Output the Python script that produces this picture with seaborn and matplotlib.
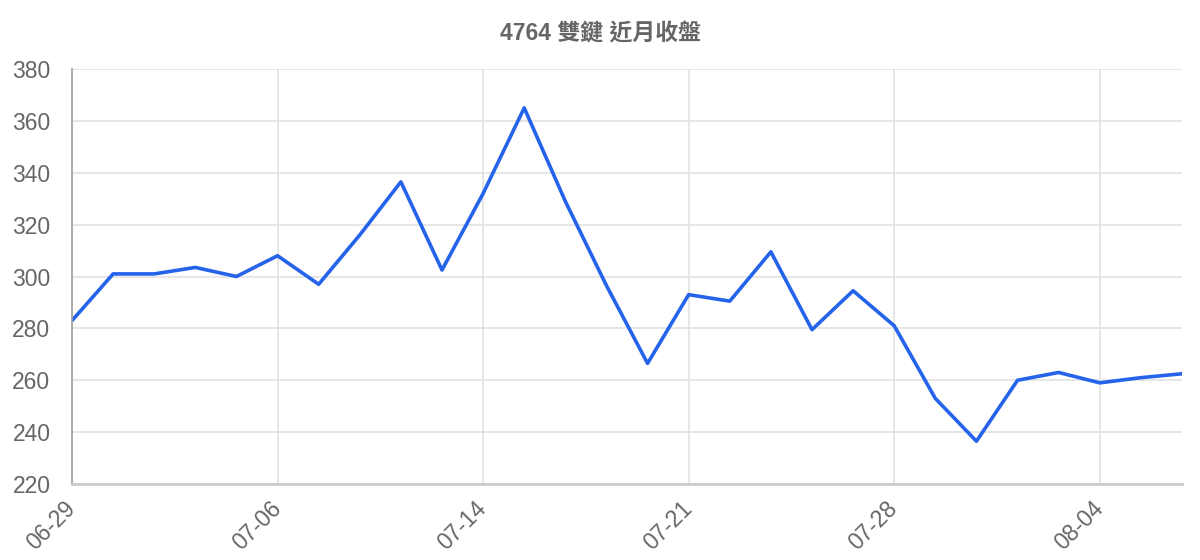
import pandas as pd
import seaborn as sns
import matplotlib
matplotlib.use('Agg')
from matplotlib import pyplot as plt

# 近月收盤資料
dates = ['06-29', '06-30', '07-03', '07-04', '07-05', '07-06', '07-10', '07-11',
         '07-12', '07-13', '07-14', '07-17', '07-18', '07-19', '07-20', '07-21',
         '07-24', '07-25', '07-26', '07-27', '07-28', '07-31', '08-01', '08-02',
         '08-03', '08-04', '08-07', '08-08']
close = [283, 301, 301, 303.5, 300, 308, 297, 316, 336.5, 302.5, 332, 365,
         329, 296.5, 266.5, 293, 290.5, 309.5, 279.5, 294.5, 281, 253, 236.5,
         260, 263, 259, 261, 262.5]
title = '4764 雙鍵 近月收盤'

df = pd.DataFrame({'date': dates, 'close': close})
df['pos'] = range(len(df))

sns.set_theme(style='white')
plt.rcParams['font.family'] = ['Liberation Sans', 'Noto Sans CJK TC', 'DejaVu Sans']

fig = plt.figure(figsize=(12, 5.6), dpi=100)
ax = fig.add_axes([0.06, 0.1357, 0.925, 0.7411])

sns.lineplot(x='pos', y='close', data=df, ax=ax, color='#2563eb', linewidth=2.6)

ax.set_xlim(0, len(df) - 1)
ax.set_ylim(220, 380)
ax.set_yticks(range(220, 381, 20))
ticks = list(range(0, len(df), 5))
ax.set_xticks(ticks)
ax.set_xticklabels([dates[i] for i in ticks], rotation=45, ha='right',
                   va='center', rotation_mode='anchor')
ax.set_xlabel('')
ax.set_ylabel('')

ax.grid(True, color='#e2e2e2', linewidth=1.2)
ax.set_axisbelow(True)
for s in ['top', 'right']:
    ax.spines[s].set_visible(False)
ax.spines['left'].set_color('#a0a0a0')
ax.spines['left'].set_linewidth(1.2)
ax.spines['bottom'].set_color('#cccccc')
ax.spines['bottom'].set_linewidth(2)
ax.tick_params(axis='y', length=14, width=1.2, color='#e2e2e2',
               labelcolor='#666666', labelsize=16.5, pad=1.5)
ax.tick_params(axis='x', length=13, width=1.2, color='#e2e2e2',
               labelcolor='#666666', labelsize=16.5, pad=2)

fig.suptitle(title, x=0.5, y=0.939, va='center',
             family=['Liberation Sans', 'Noto Sans CJK TC', 'DejaVu Sans'],
             fontsize=16.5, fontweight='bold', color='#666666')

fig.savefig('out.png', dpi=100)
